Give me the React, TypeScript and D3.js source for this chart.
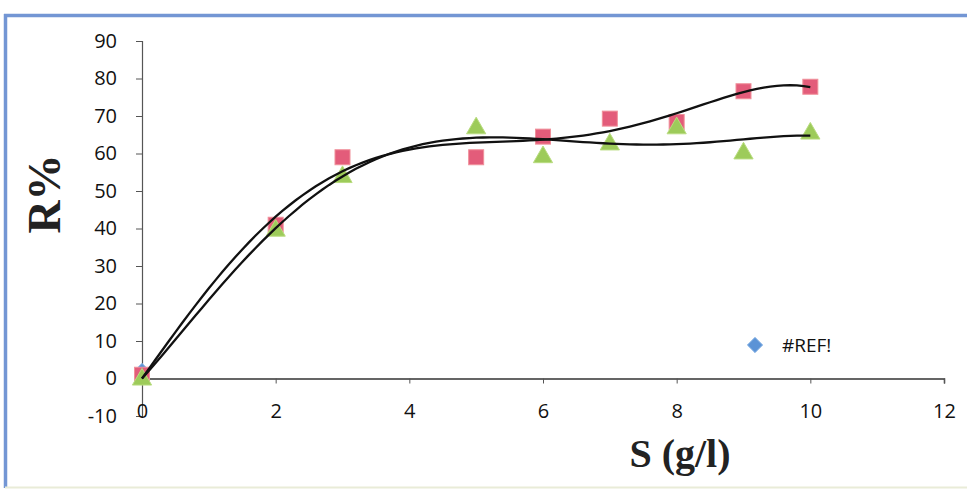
import React, { useEffect, useRef } from 'react';
import * as d3 from 'd3';

// substrate concentration S (g/l)
const sValues = [0, 2, 3, 5, 6, 7, 8, 9, 10];
// removal R% for the two series
const redSeries = [1, 41, 59, 59, 64.5, 69.3, 68.4, 76.6, 77.8];
const greenSeries = [0, 39.7, 54, 67, 59.3, 62.7, 67, 60.3, 65.6];
// the broken "#REF!" series only has one point
const refSeries = [{ x: 0, y: 2 }];

const xTicks = [0, 2, 4, 6, 8, 10, 12];
const yTicks = [-10, 0, 10, 20, 30, 40, 50, 60, 70, 80, 90];

const width = 967;
const height = 490;
const trendOrder = 5;

// least squares polynomial, intercept set to 0 (excel trendline option)
function polyFit(xs: number[], ys: number[], order: number) {
  const n = order;
  const A: number[][] = [];
  const b: number[] = [];
  for (let i = 1; i <= n; i++) {
    const row: number[] = [];
    for (let j = 1; j <= n; j++) {
      row.push(d3.sum(xs, (x) => Math.pow(x, i + j)));
    }
    A.push(row);
    b.push(d3.sum(xs, (x, k) => Math.pow(x, i) * ys[k]));
  }
  // gaussian elimination
  for (let c = 0; c < n; c++) {
    let p = c;
    for (let r = c + 1; r < n; r++) if (Math.abs(A[r][c]) > Math.abs(A[p][c])) p = r;
    [A[c], A[p]] = [A[p], A[c]];
    [b[c], b[p]] = [b[p], b[c]];
    for (let r = c + 1; r < n; r++) {
      const f = A[r][c] / A[c][c];
      for (let k = c; k < n; k++) A[r][k] -= f * A[c][k];
      b[r] -= f * b[c];
    }
  }
  const coef = new Array(n).fill(0);
  for (let r = n - 1; r >= 0; r--) {
    let s = b[r];
    for (let k = r + 1; k < n; k++) s -= A[r][k] * coef[k];
    coef[r] = s / A[r][r];
  }
  return (x: number) => coef.reduce((acc, c, i) => acc + c * Math.pow(x, i + 1), 0);
}

export default function App() {
  const ref = useRef<SVGSVGElement>(null);

  useEffect(() => {
    const svg = d3.select(ref.current);
    svg.selectAll('*').remove();

    const x = d3.scaleLinear().domain([0, 12]).range([142, 944]);
    const y = d3.scaleLinear().domain([-10, 90]).range([416, 41]);

    // scanned frame edges (top and left show, bottom is faint)
    svg.append('line')
      .attr('x1', 4).attr('x2', 967).attr('y1', 15.5).attr('y2', 15.5)
      .attr('stroke', '#7396d4').attr('stroke-width', 3.5);
    svg.append('line')
      .attr('x1', 5.5).attr('x2', 5.5).attr('y1', 14).attr('y2', 488)
      .attr('stroke', '#7396d4').attr('stroke-width', 3.5);
    svg.append('line')
      .attr('x1', 5).attr('x2', 967).attr('y1', 487.5).attr('y2', 487.5)
      .attr('stroke', '#e9ecd8').attr('stroke-width', 2);

    // y axis
    const yAxis = svg.append('g').attr('transform', `translate(${x(0)},0)`);
    yAxis.call(d3.axisLeft(y).tickValues(yTicks).tickSize(6).tickPadding(19).tickFormat((d) => String(d)));
    yAxis.select('.domain').attr('stroke', '#555').attr('stroke-width', 1.2);
    yAxis.selectAll('.tick line').attr('stroke', '#555');
    yAxis.selectAll('.tick text')
      .attr('font-family', '"Open Sans", sans-serif')
      .attr('font-size', 20)
      .attr('fill', '#111');

    // x axis
    const xAxis = svg.append('g').attr('transform', `translate(0,${y(0)})`);
    xAxis.call(d3.axisBottom(x).tickValues(xTicks).tickSize(5).tickSizeOuter(5).tickPadding(20).tickFormat((d) => String(d)));
    xAxis.select('.domain').attr('stroke', '#333').attr('stroke-width', 1.5);
    xAxis.selectAll('.tick line').attr('stroke', '#555');
    xAxis.selectAll('.tick text')
      .attr('font-family', '"Open Sans", sans-serif')
      .attr('font-size', 20)
      .attr('fill', '#111');

    // markers
    const diamond = d3.symbol(d3.symbolDiamond2, 150)();
    svg.append('g').selectAll('path')
      .data(refSeries)
      .enter()
      .append('path')
      .attr('d', diamond)
      .attr('transform', (d) => `translate(${x(d.x)},${y(d.y)})`)
      .attr('fill', '#5b93d6')
      .attr('stroke', '#8fb8e8');

    svg.append('g').selectAll('rect')
      .data(sValues)
      .enter()
      .append('rect')
      .attr('x', (d) => x(d) - 7.5)
      .attr('y', (d, i) => y(redSeries[i]) - 7.5)
      .attr('width', 15)
      .attr('height', 15)
      .attr('fill', '#e35c7a')
      .attr('stroke', '#f0909a');

    svg.append('g').selectAll('path')
      .data(sValues)
      .enter()
      .append('path')
      .attr('d', d3.symbol(d3.symbolTriangle, 160)())
      .attr('transform', (d, i) => `translate(${x(d)},${y(greenSeries[i]) + 1})`)
      .attr('fill', '#9dcb5a')
      .attr('stroke', '#b9dc80');

    // trendlines (polynomial, order 5)
    const samples = d3.range(0, 10.001, 0.1);
    [redSeries, greenSeries].forEach((series) => {
      const f = polyFit(sValues, series, trendOrder);
      const line = d3.line<number>().x((d) => x(d)).y((d) => y(f(d)));
      svg.append('path')
        .attr('d', line(samples))
        .attr('fill', 'none')
        .attr('stroke', '#111')
        .attr('stroke-width', 2.3);
    });

    // legend
    svg.append('path')
      .attr('d', diamond)
      .attr('transform', 'translate(755,345)')
      .attr('fill', '#5b93d6')
      .attr('stroke', '#8fb8e8');
    svg.append('text')
      .attr('x', 782).attr('y', 352)
      .attr('font-family', '"Open Sans", sans-serif')
      .attr('font-size', 19)
      .attr('fill', '#111')
      .text('#REF!');

    // axis titles
    svg.append('text')
      .attr('x', 680).attr('y', 467)
      .attr('text-anchor', 'middle')
      .attr('font-family', '"Liberation Serif", serif')
      .attr('font-weight', 'bold')
      .attr('font-size', 40)
      .attr('fill', '#222')
      .text('S (g/l)');
    svg.append('text')
      .attr('transform', 'translate(60,194) rotate(-90)')
      .attr('text-anchor', 'middle')
      .attr('font-family', '"Liberation Serif", serif')
      .attr('font-weight', 'bold')
      .attr('font-size', 46)
      .attr('fill', '#222')
      .text('R%');
  }, []);

  return (
    <svg
      ref={ref}
      width={width}
      height={height}
      style={{ position: 'absolute', left: 0, top: 0, background: '#fff' }}
    />
  );
}
